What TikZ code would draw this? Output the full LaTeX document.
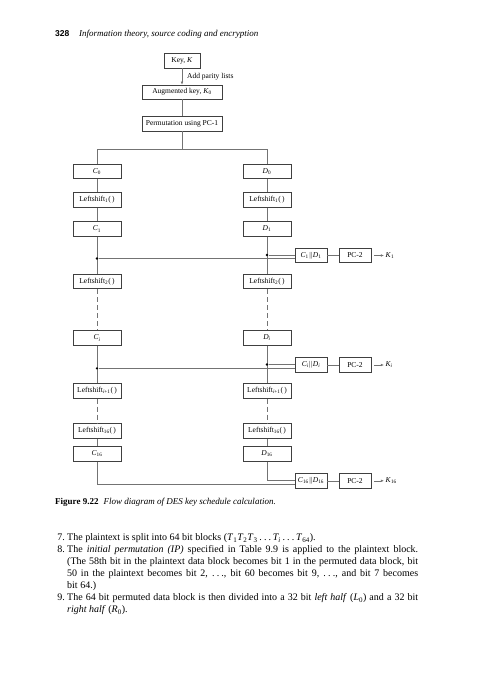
\documentclass[tikz,border=0pt]{standalone}
\usepackage{fontspec}
\setmainfont{Liberation Serif}
\newfontfamily\hdsans{Liberation Sans}
\usetikzlibrary{arrows.meta}
\newcommand\sbs[1]{\textsubscript{#1}}
\newcommand\tdots{\mbox{.\hspace{2.2pt}.\hspace{2.2pt}.}}
\newcommand\jline[1]{\makebox[351pt][s]{#1}}
\begin{document}
\begin{tikzpicture}[x=1pt,y=-1pt,
  box/.style={draw=black!75, line width=0.55pt, minimum width=48pt, minimum height=14.5pt, inner sep=0pt, font=\fontsize{7.5}{9}\selectfont},
  sbox/.style={box, minimum width=32pt, minimum height=14.5pt},
  ln/.style={draw=black!55, line width=0.55pt},
  dsh/.style={ln, dash pattern=on 5pt off 3pt},
  dot/.style={circle, fill=black, inner sep=0pt, minimum size=2.6pt},
  lbl/.style={font=\fontsize{7.5}{9}\selectfont, inner sep=0.5pt, anchor=west},
  body/.style={font=\fontsize{10}{12}\selectfont, inner sep=0pt, anchor=base west},
  arr/.style={ln, -{Latex[length=3.2pt,width=2.6pt]}},
]
\useasboundingbox (0,0) rectangle (481,680);
\fill[white] (0,0) rectangle (481,680);

% header
\node[body, font=\hdsans\bfseries\fontsize{8.5}{10}\selectfont] (pg) at (55,36) {328};
\node[body, font=\itshape\fontsize{9}{11}\selectfont] (hd) at (79,36) {Information theory, source coding and encryption};

% top chain
\node[box, minimum width=36pt, minimum height=15pt] (key) at (182,60.5) {Key, \textit{K}};
\node[box, minimum width=80pt, minimum height=14pt] (aug) at (182,92) {Augmented key, \textit{K}\sbs{0}};
\node[box, minimum width=80pt, minimum height=15pt] (perm) at (182,123.5) {Permutation using PC-1};
\draw[arr] (key) -- (aug);
\node[lbl] (apl) at (186.5,77) {Add parity lists};
\draw[ln] (aug) -- (perm);
\coordinate (split) at (182,149);
\coordinate (sl) at (97,149);
\coordinate (sr) at (267,149);

% columns
\node[box] (C0) at (97,171.5) {\textit{C}\sbs{0}};
\node[box] (D0) at (267,171.5) {\textit{D}\sbs{0}};
\node[box] (LC1) at (97,200) {Leftshift\sbs{1}(\,)};
\node[box] (LD1) at (267,200) {Leftshift\sbs{1}(\,)};
\node[box] (C1) at (97,229) {\textit{C}\sbs{1}};
\node[box] (D1) at (267,229) {\textit{D}\sbs{1}};
\node[box] (LC2) at (97,281.5) {Leftshift\sbs{2}(\,)};
\node[box] (LD2) at (267,281.5) {Leftshift\sbs{2}(\,)};
\node[box] (Ci) at (97,338) {\textit{C\sbs{i}}};
\node[box] (Di) at (267,338) {\textit{D\sbs{i}}};
\node[box] (LCi) at (97,391) {Leftshift\sbs{\textit{i}+1}(\,)};
\node[box] (LDi) at (267,391) {Leftshift\sbs{\textit{i}+1}(\,)};
\node[box] (LC16) at (97,431) {Leftshift\sbs{16}(\,)};
\node[box] (LD16) at (267,431) {Leftshift\sbs{16}(\,)};
\node[box] (C16) at (97,454) {\textit{C}\sbs{16}};
\node[box] (D16) at (267,454) {\textit{D}\sbs{16}};

\draw[ln] (perm) -- (split);
\draw[ln] (C0) -- (sl) -- (sr) -- (D0);
\draw[ln] (C0) -- (LC1) -- (C1) -- (LC2);
\draw[ln] (D0) -- (LD1) -- (D1) -- (LD2);
\draw[dsh] (LC2) -- (Ci);
\draw[dsh] (LD2) -- (Di);
\draw[ln] (Ci) -- (LCi);
\draw[ln] (Di) -- (LDi);
\draw[dsh] (LCi) -- (LC16);
\draw[dsh] (LDi) -- (LD16);
\draw[ln] (LC16) -- (C16);
\draw[ln] (LD16) -- (D16);

% junction 1
\node[sbox] (CD1) at (311,255.5) {\textit{C}\sbs{1}$\|$\textit{D}\sbs{1}};
\node[sbox] (PA) at (355,255.5) {PC-2};
\node[lbl] (K1) at (385,255.5) {\textit{K}\sbs{1}};
\node[dot] (jc1) at (97,258.5) {};
\node[dot] (jd1) at (267,255) {};
\draw[ln] (jc1) -- (jc1 -| CD1.west);
\draw[ln] (jd1) -- (jd1 -| CD1.west);
\draw[ln] (CD1) -- (PA);
\draw[arr, shorten <=3pt, shorten >=1pt] (PA) -- (K1);

% junction i
\node[sbox] (CDi) at (311,365) {\textit{C\sbs{i}}$\|$\textit{D\sbs{i}}};
\node[sbox] (PB) at (355,365) {PC-2};
\node[lbl] (Ki) at (385,365) {\textit{K\sbs{i}}};
\node[dot] (jci) at (97,368.3) {};
\node[dot] (jdi) at (267,364.5) {};
\draw[ln] (jci) -- (jci -| CDi.west);
\draw[ln] (jdi) -- (jdi -| CDi.west);
\draw[ln] (CDi) -- (PB);
\draw[arr, shorten <=3pt, shorten >=1pt] (PB) -- (Ki);

% final
\node[sbox] (CD16) at (311,480.8) {\textit{C}\sbs{16}$\|$\textit{D}\sbs{16}};
\node[sbox] (PC) at (355,480.8) {PC-2};
\node[lbl] (K16) at (385,480.8) {\textit{K}\sbs{16}};
\coordinate (cc16) at (97,484.3);
\coordinate (cd16) at (267,480.2);
\draw[ln] (C16) -- (cc16) -- (cc16 -| CD16.west);
\draw[ln] (D16) -- (cd16) -- (cd16 -| CD16.west);
\draw[ln] (CD16) -- (PC);
\draw[arr, shorten <=3pt, shorten >=1pt] (PC) -- (K16);

% caption
\node[body, font=\fontsize{9}{11}\selectfont] (cap) at (55,504) {\textbf{Figure 9.22}\hspace{5pt}\textit{Flow diagram of DES key schedule calculation.}};

% body text
\node[body, anchor=base east] (n7) at (65,540.5) {7.};
\node[body] (t1) at (67,540.5) {The plaintext is split into 64 bit blocks (\textit{T}\sbs{1}\textit{T}\sbs{2}\textit{T}\sbs{3}\,\tdots\,\textit{T\sbs{i}}\,\tdots\,\textit{T}\sbs{64}).};
\node[body, anchor=base east] (n8) at (65,552.5) {8.};
\node[body] (t2) at (67,552.5) {\jline{The \textit{initial permutation (IP)} specified in Table 9.9 is applied to the plaintext block.}};
\node[body] (t3) at (67,564.5) {\jline{(The 58th bit in the plaintext data block becomes bit 1 in the permuted data block, bit}};
\node[body] (t4) at (67,576.5) {\jline{50 in the plaintext becomes bit 2, \tdots, bit 60 becomes bit 9, \tdots, and bit 7 becomes}};
\node[body] (t5) at (67,588.5) {bit 64.)};
\node[body, anchor=base east] (n9) at (65,600.5) {9.};
\node[body] (t6) at (67,600.5) {\jline{The 64 bit permuted data block is then divided into a 32 bit \textit{left half} (\textit{L}\sbs{0}) and a 32 bit}};
\node[body] (t7) at (67,612.5) {\textit{right half} (\textit{R}\sbs{0}).};
\end{tikzpicture}
\end{document}
